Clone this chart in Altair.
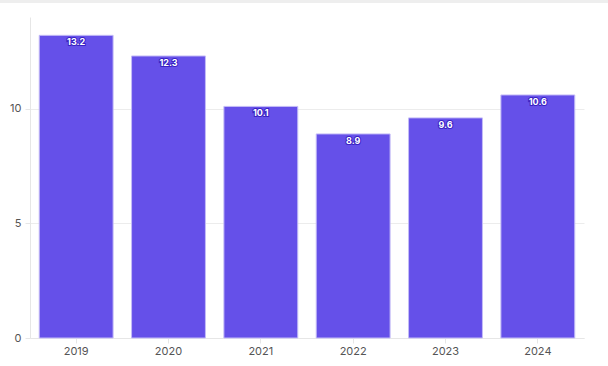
import altair as alt
import pandas as pd

years = ["2019", "2020", "2021", "2022", "2023", "2024"]
values = [13.2, 12.3, 10.1, 8.9, 9.6, 10.6]
labels = ["13.2", "12.3", "10.1", "8.9", "9.6", "10.6"]

df = pd.DataFrame({"year": years, "value": values, "label": labels})

x = alt.X("year:N", title=None, sort=years,
          scale=alt.Scale(paddingInner=0.2, paddingOuter=0.1),
          axis=alt.Axis(labelAngle=0, labelColor="#555555", labelFont="Inter",
                        labelFontSize=11, tickColor="#e6e6e6", tickSize=5,
                        domainColor="#e6e6e6", labelPadding=2))
y = alt.Y("value:Q", title=None,
          scale=alt.Scale(domain=[0, 14], nice=False),
          axis=alt.Axis(values=[0, 5, 10], labelColor="#555555", labelFont="Inter",
                        labelFontSize=11, tickColor="#e6e6e6", tickSize=5,
                        domainColor="#e6e6e6", gridColor="#ececec", labelPadding=4))

base = alt.Chart(df)
bars = base.mark_bar(color="#6550E9", stroke="#c4bcf7", strokeWidth=1).encode(x=x, y=y)
halo = base.mark_text(baseline="middle", dy=7, fontSize=9, fontWeight="bold", font="Inter",
                      stroke="#3a22c4", strokeWidth=2, fill="#3a22c4").encode(
    x=alt.X("year:N", sort=years), y="value:Q", text="label:N")
txt = base.mark_text(baseline="middle", dy=7, fontSize=9, fontWeight="bold", font="Inter",
                     fill="white").encode(
    x=alt.X("year:N", sort=years), y="value:Q", text="label:N")
strip = alt.Chart(pd.DataFrame({"a": [0]})).mark_rect(color="#eeeeee").encode(
    x=alt.value(-30), x2=alt.value(578), y=alt.value(-17), y2=alt.value(-14))

chart = alt.layer(strip, bars, halo, txt).properties(
    width=554, height=321, autosize=alt.AutoSizeParams(type="none"),
    padding={"left": 30, "top": 17, "right": 24, "bottom": 28},
    background="white"
).configure_view(stroke=None).configure_axis(grid=True).configure_axisX(grid=False)

chart.save("out.html", embed_options={"renderer": "svg", "actions": False})
